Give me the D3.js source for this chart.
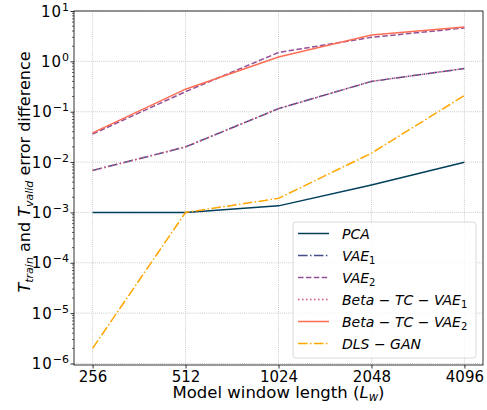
<!DOCTYPE html>
<html>
<head>
<meta charset="utf-8">
<script src="https://cdn.jsdelivr.net/npm/d3@7"></script>
<style>
  body { margin: 0; background: #fff; }
  svg, svg text { font-family: "DejaVu Sans", sans-serif; }
</style>
</head>
<body>
<div id="chart"></div>
<script>

// window lengths on the x axis
var windows = [256, 512, 1024, 2048, 4096]

// error difference per model
var pca = [0.001, 0.001, 0.00135, 0.0035, 0.0099]
var vae1 = [0.0068, 0.020, 0.115, 0.40, 0.72]
var vae2 = [0.036, 0.25, 1.5, 3.0, 4.6]
var betaTcVae1 = [0.0068, 0.020, 0.115, 0.40, 0.72]
var betaTcVae2 = [0.038, 0.28, 1.22, 3.35, 4.8]
var dlsGan = [0.000002, 0.001, 0.0019, 0.015, 0.21]

var yTickPowers = [-6, -5, -4, -3, -2, -1, 0, 1]

var series = [
	{ name: "PCA", sub: "", values: pca, color: "#003f5c", dash: null },
	{ name: "VAE", sub: "1", values: vae1, color: "#444e86", dash: "9.6,2.4,1.5,2.4" },
	{ name: "VAE", sub: "2", values: vae2, color: "#955196", dash: "5.5,2.4" },
	{ name: "Beta|TC|VAE", sub: "1", values: betaTcVae1, color: "#dd5182", dash: "1.5,2.5" },
	{ name: "Beta|TC|VAE", sub: "2", values: betaTcVae2, color: "#ff6e54", dash: null },
	{ name: "DLS|GAN", sub: "", values: dlsGan, color: "#ffa600", dash: "9.6,2.4,1.5,2.4" }
]

var width = 487, height = 410
var margin = {top: 11, right: 4, bottom: 45, left: 74}
var w = width - margin.left - margin.right
var h = height - margin.top - margin.bottom

var svg = d3.select("#chart").append("svg")
	.attr("width", width)
	.attr("height", height)

var g = svg.append("g").attr("transform", "translate(" + margin.left + "," + margin.top + ")")

// matplotlib style 5% margin in log2 space
var x = d3.scaleLog().base(2)
	.domain([Math.pow(2, 7.8), Math.pow(2, 12.2)])
	.range([0, w])

var y = d3.scaleLog()
	.domain([Math.pow(10, -6.03), 10])
	.range([h, 0])

// grid
g.append("g").selectAll("line")
	.data(windows)
	.enter().append("line")
	.attr("x1", function(d) { return x(d) })
	.attr("x2", function(d) { return x(d) })
	.attr("y1", 0).attr("y2", h)
	.attr("stroke", "#b0b0b0").attr("stroke-width", 0.8)
	.attr("stroke-dasharray", "0.8,1.3")

g.append("g").selectAll("line")
	.data(yTickPowers)
	.enter().append("line")
	.attr("y1", function(d) { return y(Math.pow(10, d)) })
	.attr("y2", function(d) { return y(Math.pow(10, d)) })
	.attr("x1", 0).attr("x2", w)
	.attr("stroke", "#b0b0b0").attr("stroke-width", 0.8)
	.attr("stroke-dasharray", "0.8,1.3")

// lines
var line = d3.line()
	.x(function(d, i) { return x(windows[i]) })
	.y(function(d) { return y(d) })

series.forEach(function(s) {
	g.append("path")
		.datum(s.values)
		.attr("d", line)
		.attr("fill", "none")
		.attr("stroke", s.color)
		.attr("stroke-width", 1.5)
		.attr("stroke-dasharray", s.dash)
})

// x axis
var xAxis = d3.axisBottom(x).tickValues(windows).tickSize(3.5).tickPadding(3)
	.tickFormat(d3.format("d"))
var xg = g.append("g").attr("transform", "translate(0," + h + ")").call(xAxis)
xg.attr("font-family", null).attr("font-size", null)
xg.select(".domain").remove()
xg.selectAll("line").attr("stroke-width", 0.8)
xg.selectAll("text").style("font-size", "15px").attr("fill", "#000")

// y minor ticks
var minor = []
for (var p = -6; p < 1; p++) {
	for (var m = 2; m < 10; m++) minor.push(m * Math.pow(10, p))
}
g.append("g").selectAll("line")
	.data(minor.filter(function(d) { return d >= y.domain()[0] }))
	.enter().append("line")
	.attr("x1", -2).attr("x2", 0)
	.attr("y1", function(d) { return y(d) })
	.attr("y2", function(d) { return y(d) })
	.attr("stroke", "#000").attr("stroke-width", 0.6)

// y axis
var yAxis = d3.axisLeft(y).tickValues(yTickPowers.map(function(d) { return Math.pow(10, d) }))
	.tickSize(3.5).tickFormat("")
var yg = g.append("g").call(yAxis)
yg.select(".domain").remove()
yg.selectAll("line").attr("stroke-width", 0.8)

var ylab = g.append("g").selectAll("text")
	.data(yTickPowers)
	.enter().append("text")
	.attr("x", -5)
	.attr("y", function(d) { return y(Math.pow(10, d)) + 5.5 })
	.attr("text-anchor", "end")
	.style("font-size", "15px")
ylab.append("tspan").attr("letter-spacing", 1).text("10")
ylab.append("tspan")
	.style("font-size", "11px")
	.attr("dy", -6)
	.text(function(d) { return d < 0 ? "\u2212" + Math.abs(d) : d })

// frame
g.append("rect")
	.attr("width", w).attr("height", h)
	.attr("fill", "none").attr("stroke", "#000").attr("stroke-width", 0.8)

// axis titles
svg.append("text")
	.attr("x", margin.left + w / 2)
	.attr("y", 398)
	.attr("text-anchor", "middle")
	.style("font-size", "16.5px")
	.html('Model window length (<tspan font-style="italic">L</tspan><tspan font-style="italic" font-size="11.5" dy="3">w</tspan><tspan dy="-3">)</tspan>')

svg.append("text")
	.attr("transform", "translate(30,172) rotate(-90)")
	.attr("text-anchor", "middle")
	.style("font-size", "16px")
	.html('<tspan font-style="italic">T</tspan><tspan font-style="italic" font-size="11" dy="3">train</tspan>' +
		'<tspan dy="-3"> and </tspan><tspan font-style="italic">T</tspan><tspan font-style="italic" font-size="11" dy="3">valid</tspan>' +
		'<tspan dy="-3"> error difference</tspan>')

// legend
var legend = svg.append("g").attr("transform", "translate(293,222)")
legend.append("rect")
	.attr("width", 183).attr("height", 136)
	.attr("rx", 3)
	.attr("fill", "#fff").attr("fill-opacity", 0.8)
	.attr("stroke", "#d0d0d0").attr("stroke-width", 0.8)

series.forEach(function(s, i) {
	var ly = 11.5 + i * 22
	legend.append("line")
		.attr("x1", 5).attr("x2", 36)
		.attr("y1", ly).attr("y2", ly)
		.attr("stroke", s.color).attr("stroke-width", 1.5)
		.attr("stroke-dasharray", s.dash)
	var t = legend.append("text")
		.attr("x", 49).attr("y", ly + 5)
		.style("font-size", "14px")
	var parts = s.name.split("|")
	parts.forEach(function(p, j) {
		if (j > 0) t.append("tspan").text(" \u2212 ")
		t.append("tspan").attr("font-style", "italic").text(p)
	})
	if (s.sub) {
		t.append("tspan").style("font-size", "10px").attr("dy", 3).text(s.sub)
	}
})

</script>
</body>
</html>
